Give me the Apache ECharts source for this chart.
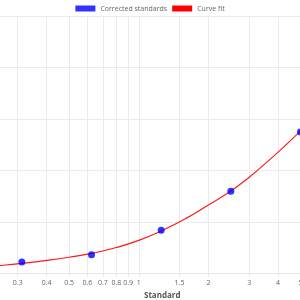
<!DOCTYPE html>
<html>
<head>
<meta charset="utf-8">
<script src="https://cdn.jsdelivr.net/npm/echarts@6/dist/echarts.min.js"></script>
<style>
html,body{margin:0;padding:0;background:#fff;overflow:hidden;}
#chart{width:300px;height:300px;}
</style>
</head>
<body>
<div id="chart"></div>
<script>
// Standards (x) and corrected readings (y)
var standardX = [0.3125, 0.625, 1.25, 2.5, 5];
var correctedY = [0.112, 0.183, 0.419, 0.798, 1.374];
// Curve fit sampled points
var curveX = [0.2, 0.25, 0.3125, 0.4, 0.5, 0.625, 0.8, 1.0, 1.25, 1.6, 2.0, 2.5, 3.0, 3.5, 4.0, 4.5, 5.0];
var curveY = [0.060, 0.077, 0.098, 0.127, 0.158, 0.195, 0.252, 0.322, 0.413, 0.535, 0.665, 0.800, 0.935, 1.062, 1.178, 1.285, 1.383];
// X tick labels
var xTicks = [0.3, 0.4, 0.5, 0.6, 0.7, 0.8, 0.9, 1, 1.5, 2, 3, 4, 5];

var pts = standardX.map(function (x, i) { return [x, correctedY[i]]; });
var curve = curveX.map(function (x, i) { return [x, curveY[i]]; });

var font = 'Open Sans';
var chart = echarts.init(document.getElementById('chart'), null, { renderer: 'canvas' });
chart.setOption({
  animation: false,
  textStyle: { fontFamily: font },
  legend: {
    top: 0,
    left: 'center',
    itemWidth: 20,
    itemHeight: 6,
    itemGap: 5,
    textStyle: { fontSize: 7, color: '#666', fontFamily: font },
    data: [
      { name: 'Corrected standards', icon: 'rect' },
      { name: 'Curve fit', icon: 'rect' }
    ]
  },
  grid: { left: -23, right: -0.5, top: 16, bottom: 26.5, containLabel: false, outerBoundsMode: 'none' },
  xAxis: {
    type: 'log',
    logBase: 10,
    min: 0.2,
    max: 5,
    name: 'Standard',
    nameLocation: 'middle',
    nameGap: 15,
    nameTextStyle: { fontSize: 8, fontWeight: 'bold', color: '#555', fontFamily: font, padding: [0, 0, 0, 47] },
    axisLine: { show: true, lineStyle: { color: '#e6e6e6', width: 1 } },
    axisTick: { show: true, length: 3, lineStyle: { color: '#e6e6e6' }, customValues: xTicks },
    axisLabel: { fontSize: 7, color: '#666', margin: 6, customValues: xTicks, fontFamily: font,
      showMinLabel: true, showMaxLabel: true,
      formatter: function (v) { return String(+parseFloat(v).toPrecision(3)); } },
    splitLine: { show: true, lineStyle: { color: '#ebebeb', width: 1 }, customValues: xTicks },
    minorTick: { show: false }
  },
  yAxis: {
    type: 'value',
    min: 0,
    max: 2.5,
    interval: 0.5,
    axisLine: { show: false },
    axisTick: { show: false },
    axisLabel: { show: false },
    splitLine: { show: true, lineStyle: { color: '#ebebeb', width: 1 } }
  },
  series: [
    {
      name: 'Corrected standards',
      type: 'scatter',
      data: pts,
      symbol: 'circle',
      symbolSize: 7,
      itemStyle: { color: '#0000ff' },
      z: 5
    },
    {
      name: 'Curve fit',
      type: 'line',
      data: curve,
      smooth: true,
      showSymbol: false,
      symbol: 'none',
      lineStyle: { color: '#ff1a1a', width: 1.2 },
      itemStyle: { color: '#ff0000' },
      z: 3
    }
  ]
});
</script>
</body>
</html>
